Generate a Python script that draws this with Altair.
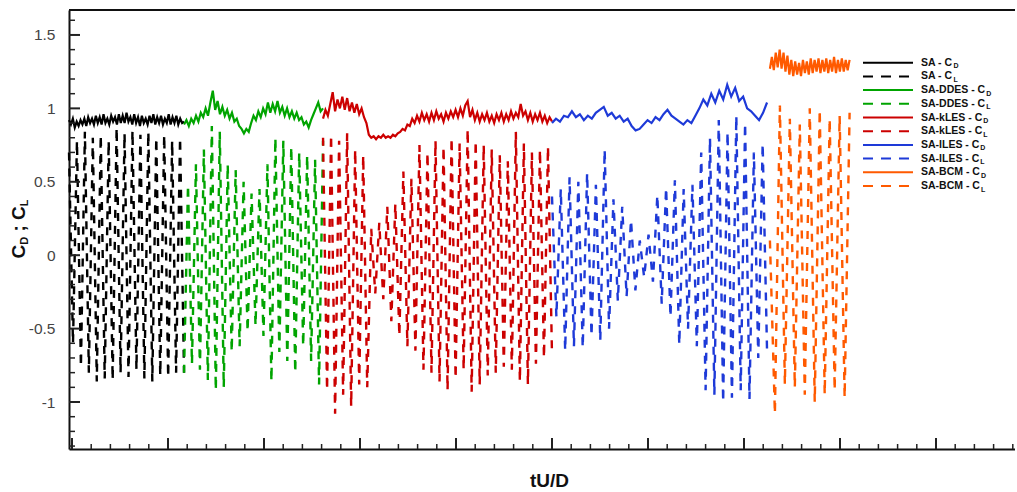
import altair as alt
import pandas as pd

# ------------------------------------------------------------------ data
MODELS = ["SA", "SA-DDES", "SA-kLES", "SA-ILES", "SA-BCM"]
COLORS = ["#000000", "#00a400", "#cc0000", "#1e3ad8", "#ff5a00"]

# time window (tU/D, major tick every 10 units) covered by each run
SPAN = {
    "SA": (-0.31, 11.67),
    "SA-DDES": (11.67, 26.15),
    "SA-kLES": (26.15, 50.0),
    "SA-ILES": (50.0, 72.4),
    "SA-BCM": (72.7, 81.0),
}

# drag coefficient histories
CD_SA = [0.92, 0.89, 0.93, 0.87, 0.91, 0.88, 0.92, 0.89, 0.93, 0.88, 0.94, 0.90, 0.93, 0.89,
         0.95, 0.90, 0.94, 0.89, 0.96, 0.90, 0.93, 0.89, 0.95, 0.91, 0.94, 0.89, 0.96, 0.90,
         0.95, 0.90, 0.97, 0.91, 0.94, 0.89, 0.96, 0.90, 0.94, 0.88, 0.95, 0.90, 0.93, 0.89,
         0.95, 0.90, 0.96, 0.89, 0.94, 0.90, 0.95, 0.89, 0.93, 0.90, 0.96, 0.89, 0.94, 0.90,
         0.95, 0.89, 0.93, 0.90, 0.91]
CD_DDES = [0.89, 0.92, 0.88, 0.93, 0.90, 0.95, 0.91, 0.97, 0.94, 1.00, 0.95, 1.04, 1.12, 0.99,
           1.05, 0.96, 1.01, 0.95, 0.99, 0.93, 0.97, 0.91, 0.93, 0.88, 0.86, 0.83, 0.86, 0.84,
           0.90, 0.95, 0.92, 0.98, 0.94, 1.00, 0.96, 1.04, 0.97, 1.03, 0.98, 1.05, 0.97, 1.01,
           0.95, 1.00, 0.94, 0.98, 0.93, 0.97, 0.92, 0.94, 0.89, 0.91, 0.87, 0.92, 0.96, 1.00,
           1.04, 0.98, 1.00]
CD_KLES = [0.93, 0.99, 0.95, 1.03, 1.11, 0.98, 1.06, 1.00, 1.08, 0.99, 1.07, 0.98, 1.04, 0.97,
           1.03, 0.96, 1.00, 0.94, 0.90, 0.82, 0.80, 0.81, 0.79, 0.81, 0.80, 0.82, 0.80, 0.81,
           0.80, 0.82, 0.81, 0.83, 0.84, 0.86, 0.85, 0.89, 0.88, 0.93, 0.90, 0.95, 0.91, 0.97,
           0.92, 0.96, 0.91, 0.97, 0.92, 0.98, 0.93, 0.96, 0.91, 0.97, 0.93, 0.98, 0.94, 0.99,
           0.94, 1.00, 0.95, 1.02, 1.05, 0.94, 0.99, 0.92, 0.97, 0.91, 0.96, 0.92, 0.97, 0.91,
           0.95, 0.90, 0.96, 0.92, 0.97, 0.91, 0.96, 0.92, 0.98, 0.93, 0.97, 0.94, 1.03, 0.95,
           0.98, 0.92, 0.97, 0.91, 0.96, 0.92, 0.97, 0.91, 0.95, 0.90, 0.94, 0.91]
CD_ILES = [0.90, 0.93, 0.91, 0.95, 0.94, 0.98, 0.94, 0.96, 0.92, 0.95, 0.93, 0.97, 0.99, 1.01,
           0.95, 0.97, 0.93, 0.95, 0.91, 0.93, 0.88, 0.85, 0.86, 0.89, 0.92, 0.90, 0.94, 0.92,
           0.96, 0.99, 0.95, 0.93, 0.91, 0.89, 0.92, 0.90, 0.95, 1.00, 1.06, 1.02, 1.10, 1.04,
           1.12, 1.06, 1.16, 1.08, 1.14, 1.05, 1.08, 1.00, 0.98, 0.95, 0.92, 0.97, 1.04]
CD_BCM = [1.27, 1.35, 1.26, 1.38, 1.28, 1.40, 1.27, 1.38, 1.25, 1.36, 1.23, 1.33, 1.22, 1.32,
          1.23, 1.31, 1.22, 1.33, 1.24, 1.32, 1.23, 1.34, 1.24, 1.33, 1.25, 1.34, 1.24, 1.33,
          1.25, 1.34, 1.24, 1.33, 1.25, 1.35, 1.24, 1.33, 1.25, 1.34, 1.25, 1.33, 1.26, 1.33]

# lift coefficient histories: successive crests and troughs
CL_SA = [0.70, -0.60, 0.78, -0.76, 0.84, -0.80, 0.80, -0.86, 0.82, -0.84, 0.78, -0.85,
         0.87, -0.80, 0.83, -0.83, 0.85, -0.78, 0.82, -0.84, 0.84, -0.86, 0.80, -0.82,
         0.82, -0.83, 0.78, -0.80, 0.80, -0.80]
CL_DDES = [-0.80, 0.48, -0.74, 0.62, -0.78, 0.72, -0.85, 0.88, -0.92, 0.84, -0.90, 0.62,
           -0.66, 0.58, -0.62, 0.50, -0.52, 0.42, -0.48, 0.45, -0.55, 0.62, -0.86, 0.80,
           -0.66, 0.78, -0.72, 0.74, -0.80, 0.70, -0.62, 0.68, -0.72, 0.65, -0.88, 0.78]
CL_KLES = [0.80, -0.92, 0.82, -1.08, 0.78, -0.95, 0.83, -1.03, 0.72, -0.88, 0.68, -0.90,
           0.18, -0.26, 0.22, -0.30, 0.33, -0.45, 0.35, -0.55, 0.57, -0.62, 0.52, -0.65,
           0.75, -0.78, 0.70, -0.80, 0.78, -0.86, 0.74, -0.92, 0.80, -0.84, 0.76, -0.78,
           0.86, -0.93, 0.78, -0.88, 0.75, -0.82, 0.72, -0.80, 0.68, -0.76, 0.64, -0.78,
           0.84, -0.86, 0.76, -0.88, 0.70, -0.74, 0.72, -0.70, 0.74, -0.68]
CL_ILES = [0.40, -0.42, 0.45, -0.65, 0.53, -0.62, 0.50, -0.63, 0.56, -0.55, 0.48, -0.58,
           0.72, -0.50, 0.38, -0.31, 0.33, -0.28, 0.24, -0.24, 0.10, -0.15, 0.14, -0.18,
           0.41, -0.33, 0.46, -0.42, 0.51, -0.61, 0.45, -0.50, 0.48, -0.62, 0.70, -0.92,
           0.80, -0.95, 0.92, -1.00, 0.84, -0.97, 0.95, -0.92, 0.90, -0.98, 0.70, -0.70,
           0.76, -0.65]
CL_BCM = [0.10, -1.08, 1.02, -0.88, 0.93, -0.90, 0.89, -0.95, 1.00, -1.00, 0.99, -0.95,
          0.93, -0.92, 0.95, -0.97, 0.97]

CD = {"SA": CD_SA, "SA-DDES": CD_DDES, "SA-kLES": CD_KLES, "SA-ILES": CD_ILES, "SA-BCM": CD_BCM}
CL = {"SA": CL_SA, "SA-DDES": CL_DDES, "SA-kLES": CL_KLES, "SA-ILES": CL_ILES, "SA-BCM": CL_BCM}

Y_MAJOR = [-1, -0.5, 0, 0.5, 1, 1.5]

# ------------------------------------------------------------------ layout
LEFT, TOP = 69, 10
W, H = 946, 439
PX_PER_T = 9.6
XMIN = -0.3125
XMAX = XMIN + W / PX_PER_T
YMIN, YMAX = -1.32, 1.67


def t_of(page_x):
    return XMIN + (page_x - LEFT) / PX_PER_T


def v_of(page_y):
    return YMAX - (page_y - TOP) / H * (YMAX - YMIN)


rows = []
for kind, src in (("CD", CD), ("CL", CL)):
    for m in MODELS:
        vals = src[m]
        t0, t1 = SPAN[m]
        n = len(vals)
        for i, v in enumerate(vals):
            rows.append({"t": t0 + (t1 - t0) * i / (n - 1), "v": v, "model": m,
                         "kind": kind, "series": m + kind})
df = pd.DataFrame(rows)

FONT = "Liberation Sans"
xs = alt.Scale(domain=[XMIN, XMAX], nice=False, zero=False)
ys = alt.Scale(domain=[YMIN, YMAX], nice=False, zero=False)
xaxis = alt.Axis(labels=False, ticks=False, tickSize=0, grid=False, domain=True,
                 domainColor="#111111", domainWidth=2, title="tU/D", titleFont=FONT,
                 titleFontSize=19, titleFontWeight="bold", titleColor="#111111",
                 titleX=480, titleY=37, titleBaseline="alphabetic", titleAlign="center")
yaxis = alt.Axis(values=Y_MAJOR, labelExpr="datum.value + ''", ticks=False, tickSize=0,
                 labelPadding=14, labelFont=FONT, labelFontSize=15.5, labelColor="#444444",
                 grid=False, domain=True, domainColor="#111111", domainWidth=2, title=None)
X = alt.X("t:Q", scale=xs, axis=xaxis)
Y = alt.Y("v:Q", scale=ys, axis=yaxis)
color = alt.Color("model:N", scale=alt.Scale(domain=MODELS, range=COLORS), legend=None)
dash = alt.StrokeDash("kind:N", scale=alt.Scale(domain=["CD", "CL"], range=[[1, 0], [10, 8]]),
                      legend=None)

cl_layer = alt.Chart(df).transform_filter(alt.datum.kind == "CL").mark_line(
    strokeWidth=2.4, strokeDash=[8, 8]
).encode(x=X, y=Y, color=color, detail="series:N")

cd_layer = alt.Chart(df).transform_filter(alt.datum.kind == "CD").mark_line(
    strokeWidth=2.2
).encode(x=X, y=Y, color=color, detail="series:N")

# inward tick marks
x_major = [10 * k for k in range(0, 10)]
x_minor = [2 * k for k in range(0, 50) if (2 * k) % 10 != 0]
y_major = Y_MAJOR
y_minor = [round(-1.3 + 0.1 * k, 1) for k in range(0, 30)]
y_minor = [v for v in y_minor if round(v * 2, 6) != round(round(v * 2), 6)]

xt_major = alt.Chart(pd.DataFrame({"t": x_major})).mark_rule(color="#222222", strokeWidth=2).encode(
    x=X, y=alt.value(H), y2=alt.value(H - 11))
xt_minor = alt.Chart(pd.DataFrame({"t": x_minor})).mark_rule(color="#222222", strokeWidth=1.5).encode(
    x=X, y=alt.value(H), y2=alt.value(H - 5))
yt_major = alt.Chart(pd.DataFrame({"v": y_major})).mark_rule(color="#222222", strokeWidth=2).encode(
    y=Y, x=alt.value(0), x2=alt.value(11))
yt_minor = alt.Chart(pd.DataFrame({"v": y_minor})).mark_rule(color="#222222", strokeWidth=1.5).encode(
    y=Y, x=alt.value(0), x2=alt.value(6))

top_border = alt.Chart(pd.DataFrame({"a": [0]})).mark_rule(color="#111111", strokeWidth=2).encode(
    y=alt.value(0), x=alt.value(0), x2=alt.value(W))

# ------------------------------------------------------------------ legend
BOLD_W = {"S": 667, "A": 722, " ": 278, "-": 333, "C": 722, "D": 722, "E": 667, "k": 556,
          "L": 611, "I": 278, "B": 722, "M": 833, ";": 333}


def text_w(s, size):
    return sum(BOLD_W.get(c, 600) for c in s) * size / 1000.0


LEG_FS, SUB_FS = 10.5, 7
leg = []
i = 0
for m in MODELS:
    for kind, sub in (("CD", "D"), ("CL", "L")):
        py = 62.7 + 13.7 * i
        main = m + " - C"
        tx_page = 921
        sx_page = tx_page + text_w(main, LEG_FS) + 1
        leg.append({"t": t_of(863), "t2": t_of(913), "v": v_of(py), "model": m, "kind": kind,
                    "label": main, "tx": t_of(tx_page), "sub": sub, "sx": t_of(sx_page),
                    "sv": v_of(py + 3.5)})
        i += 1
leg_df = pd.DataFrame(leg)

leg_lines = alt.Chart(leg_df).mark_rule(strokeWidth=2).encode(
    x=X, x2="t2:Q", y=Y, color=color, strokeDash=dash)
leg_text = alt.Chart(leg_df).mark_text(align="left", baseline="middle", font=FONT,
                                       fontSize=LEG_FS, fontWeight="bold", color="#111111").encode(
    x=alt.X("tx:Q", scale=xs, axis=xaxis), y=Y, text="label:N")
leg_sub = alt.Chart(leg_df).mark_text(align="left", baseline="middle", font=FONT,
                                      fontSize=SUB_FS, fontWeight="bold", color="#111111").encode(
    x=alt.X("sx:Q", scale=xs, axis=xaxis), y=alt.Y("sv:Q", scale=ys, axis=yaxis), text="sub:N")

# ------------------------------------------------------------------ y title  C_D ; C_L
MAIN_FS, TSUB_FS = 19, 11
pieces = [("C", MAIN_FS, 0), ("D", TSUB_FS, 3), (";", MAIN_FS, 0), ("C", MAIN_FS, 0), ("L", TSUB_FS, 3)]
gaps = [0, 0, text_w(" ", MAIN_FS), text_w(" ", MAIN_FS), 0]
total = sum(text_w(p[0], p[1]) for p in pieces) + sum(gaps)
cur = 229 + total / 2
title_rows = []
for (s, fs, shift), g in zip(pieces, gaps):
    cur -= g
    title_rows.append({"t": t_of(25 + shift), "v": v_of(cur), "txt": s, "fs": fs})
    cur -= text_w(s, fs)
tdf = pd.DataFrame(title_rows)
ytitle_main = alt.Chart(tdf).transform_filter(alt.datum.fs == MAIN_FS).mark_text(
    angle=270, align="left", baseline="alphabetic", font=FONT, fontSize=MAIN_FS,
    fontWeight="bold", color="#111111").encode(x=X, y=Y, text="txt:N")
ytitle_sub = alt.Chart(tdf).transform_filter(alt.datum.fs == TSUB_FS).mark_text(
    angle=270, align="left", baseline="alphabetic", font=FONT, fontSize=TSUB_FS,
    fontWeight="bold", color="#111111").encode(x=X, y=Y, text="txt:N")

chart = alt.layer(
    cl_layer, cd_layer, xt_major, xt_minor, yt_major, yt_minor, top_border,
    leg_lines, leg_text, leg_sub, ytitle_main, ytitle_sub
).properties(
    width=W, height=H,
    autosize=alt.AutoSizeParams(type="none"),
    padding={"left": LEFT, "top": TOP, "right": 0, "bottom": 42},
).configure_view(stroke=None)

chart.save("out.html", embed_options={"renderer": "svg", "actions": False})
